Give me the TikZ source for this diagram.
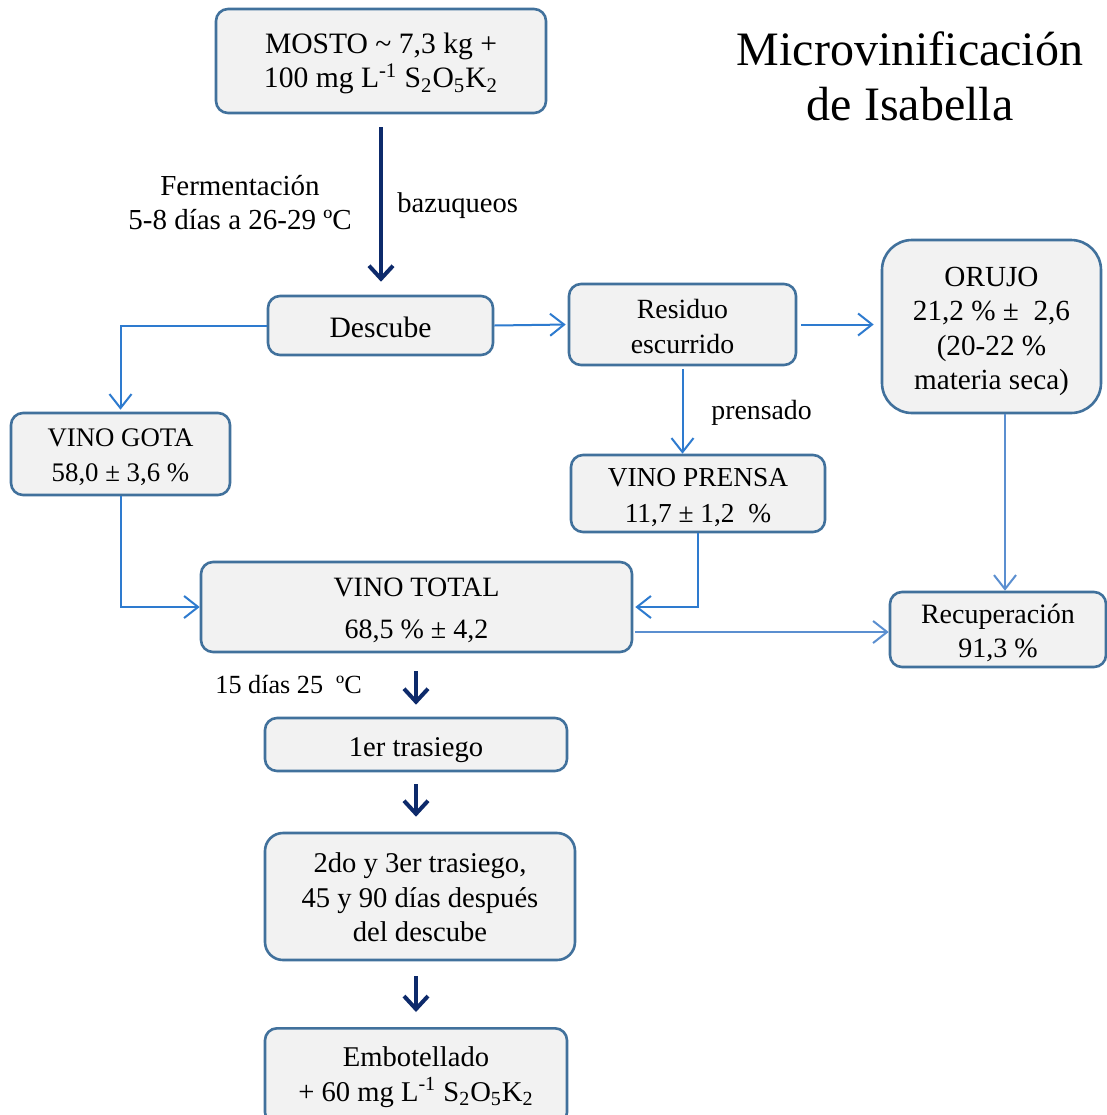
\documentclass[tikz,border=0pt]{standalone}
\usepackage{fontspec}
\setmainfont{Liberation Serif}
\usetikzlibrary{arrows.meta,calc}
\definecolor{boxborder}{HTML}{41719C}
\definecolor{boxfill}{HTML}{F2F2F2}
\definecolor{conn}{HTML}{2E7BCF}
\definecolor{connlight}{HTML}{5B8FD0}
\definecolor{darkarr}{HTML}{0D2A6B}
\newcommand{\fsz}[1]{\fontsize{#1}{17.3pt}\selectfont}
\begin{document}
\begin{tikzpicture}[x=0.5pt,y=-0.5pt,
  flowbox/.style={draw=boxborder, line width=1.3pt, fill=boxfill, rounded corners=6pt, inner sep=0pt},
  bt/.style={align=center, inner sep=0pt, font=\fsz{14.3}},
  bluearr/.style={draw=conn, line width=1pt, -{Straight Barb[length=7pt,width=11pt,line width=1pt]}},
  darr/.style={draw=darkarr, line width=2pt, -{Straight Barb[length=6.5pt,width=12pt,line width=2pt]}},
  lbl/.style={font=\fsz{14.3}, inner sep=0pt, align=center}]
\useasboundingbox (0,0) rectangle (1107,1115);
\fill[white] (0,0) rectangle (1107,1115);

% title
\node[font=\fontsize{24}{27.5pt}\selectfont, align=center, inner sep=0pt] (title) at (910,76)
  {Microvinificación\\de Isabella};

% boxes
\node[flowbox, minimum width=165pt, minimum height=52pt] (mosto) at (381,61) {};
\node[bt, font=\fsz{14.8}] (mosto-t) at ([yshift=-1.25pt]mosto.center)
  {MOSTO \textasciitilde\ 7,3 kg +\\100 mg L\textsuperscript{-1} S\textsubscript{2}O\textsubscript{5}K\textsubscript{2}};

\node[flowbox, minimum width=112.5pt, minimum height=29.5pt] (descube) at (380.5,325.5) {};
\node[bt, font=\fsz{14.8}] (descube-t) at ([yshift=-1pt]descube.center) {Descube};

\node[flowbox, minimum width=113.5pt, minimum height=40.5pt] (residuo) at (682.5,324.5) {};
\node[bt, font=\fsz{13.9}] (residuo-t) at ([yshift=-1pt]residuo.center) {Residuo\\escurrido};

\node[flowbox, minimum width=109.5pt, minimum height=86.5pt, rounded corners=15pt] (orujo) at (991.5,326.5) {};
\node[bt, font=\fsz{14.6}] (orujo-t) at ([yshift=-2.5pt]orujo.center)
  {ORUJO\\21,2 \% ±\ \ 2,6\\(20-22 \%\\materia seca)};

\node[flowbox, minimum width=109.5pt, minimum height=41pt] (gota) at (120.5,454) {};
\node[bt, font=\fsz{13.4}] (gota-t) at ([yshift=-1.5pt]gota.center) {VINO GOTA\\58,0 ± 3,6 \%};

\node[flowbox, minimum width=127pt, minimum height=38.5pt] (prensa) at (698,493.5) {};
\node[bt, font={\fontsize{13.7}{18pt}\selectfont}] (prensa-t) at ([yshift=-2pt]prensa.center) {VINO PRENSA\\11,7 ± 1,2\ \ \%};

\node[flowbox, minimum width=215.5pt, minimum height=45pt] (total) at (416.5,607) {};
\node[bt, font={\fontsize{14}{21pt}\selectfont}] (total-t) at ([yshift=-1.5pt]total.center) {VINO TOTAL\\68,5 \% ± 4,2};

\node[flowbox, minimum width=108pt, minimum height=37.5pt] (recup) at (998,629.5) {};
\node[bt, font=\fsz{14}] (recup-t) at ([yshift=-1.75pt]recup.center) {Recuperación\\91,3 \%};

\node[flowbox, minimum width=151pt, minimum height=26.5pt] (tr1) at (416,744.5) {};
\node[bt] (tr1-t) at ([yshift=-3pt]tr1.center) {1er trasiego};

\node[flowbox, minimum width=155pt, minimum height=63.5pt, rounded corners=9pt] (tr23) at (420,896.5) {};
\node[bt] (tr23-t) at ([yshift=-0.5pt]tr23.center) {2do y 3er trasiego,\\45 y 90 días después\\del descube};

\node[flowbox, minimum width=151pt, minimum height=48pt, anchor=north] (embot) at (416,1027) {};
\node[bt] (embot-t) at ([yshift=-0.5pt]embot.center)
  {Embotellado\\+ 60 mg L\textsuperscript{-1} S\textsubscript{2}O\textsubscript{5}K\textsubscript{2}};

% labels
\node[lbl, font=\fsz{14.5}] (ferm) at (240,202.5) {Fermentación\\5-8 días a 26-29 ºC};
\node[lbl, anchor=west] (baz) at (397,206) {bazuqueos};
\node[lbl, anchor=west, font=\fsz{13.9}] (prens) at (711,413) {prensado};
\node[lbl, anchor=west, font=\fsz{13.1}] (quince) at (215,685) {15 días 25\ \ ºC};

% dark arrows
\draw[darr, shorten <=6.5pt, shorten >=6.5pt] (mosto.south) -- (mosto.south |- descube.north);
\draw[darr, shorten <=9pt, shorten >=6pt] (tr1.north |- total.south) -- (tr1.north);
\draw[darr, shorten <=6pt, shorten >=7.5pt] (tr1.south) -- (tr1.south |- tr23.north);
\draw[darr, shorten <=7.5pt, shorten >=7.5pt] (embot.north |- tr23.south) -- (embot.north);

% blue connectors
\draw[bluearr, shorten >=1pt] (descube.west) -| (gota.north);
\draw[bluearr, shorten >=1pt] (descube.east) -- (residuo.west);
\draw[bluearr, shorten <=2pt, shorten >=3.5pt] (residuo.east) -- (residuo.east -| orujo.west);
\draw[bluearr, shorten <=1.5pt] (residuo.south) -- (residuo.south |- prensa.north);
\draw[bluearr] (gota.south) |- (total.west);
\draw[bluearr, shorten >=1pt] (prensa.south) |- (total.east);
\draw[bluearr, draw=connlight] ([xshift=6.75pt]orujo.south) -- ([xshift=6.75pt]orujo.south |- recup.north);
\draw[bluearr, draw=connlight, shorten <=1pt] ([yshift=-12.5pt]total.east) -- ([yshift=-12.5pt]total.east -| recup.west);
\end{tikzpicture}
\end{document}
